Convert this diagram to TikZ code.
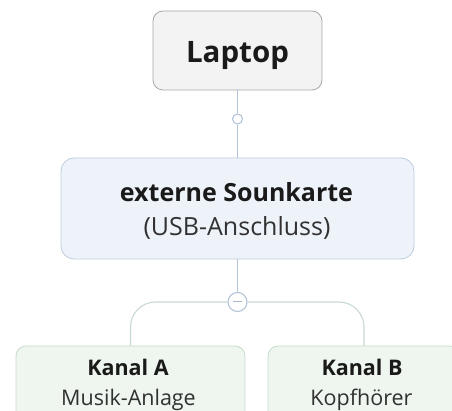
\documentclass[tikz,border=0pt]{standalone}
\usepackage{fontspec}
\setmainfont{Open Sans}
\begin{document}
\begin{tikzpicture}[x=1pt,y=-1pt,
  box/.style={draw, line width=0.8pt, rounded corners=10pt, inner sep=0pt},
  conn/.style={draw=lineblue, line width=1.1pt},
  brack/.style={draw=linegreen, line width=1.1pt, rounded corners=25pt},
  lbl/.style={anchor=base, inner sep=0pt},
]
\definecolor{lineblue}{HTML}{B4C4D8}
\definecolor{linegreen}{HTML}{C8DAD2}
\definecolor{graybd}{HTML}{A8A8A8}
\definecolor{grayfill}{HTML}{F3F3F3}
\definecolor{bluebd}{HTML}{BCCCE0}
\definecolor{bluefill}{HTML}{EEF3FA}
\definecolor{greenbd}{HTML}{C8DCCC}
\definecolor{greenfill}{HTML}{EEF6EF}
\definecolor{txt}{HTML}{1A1A1A}
\useasboundingbox (0,0) rectangle (452,411);
\clip (0,0) rectangle (452,411);
\fill[white] (0,0) rectangle (452,411);
% boxes
\node[box, draw=graybd, fill=grayfill, minimum width=169pt, minimum height=79pt] (lap) at (237.5,50.5) {};
\node[box, draw=bluebd, fill=bluefill, minimum width=353pt, minimum height=101pt, rounded corners=13pt] (ext) at (237.5,208.5) {};
\node[box, draw=greenbd, fill=greenfill, minimum width=229pt, minimum height=90pt] (ka) at (130.5,391) {};
\node[box, draw=greenbd, fill=greenfill, minimum width=192pt, minimum height=90pt] (kb) at (364,391) {};
% texts
\node[lbl, text=txt, font=\bfseries\fontsize{29.5}{32}\selectfont] (laptxt) at (237.5,63) {Laptop};
\node[lbl, text=txt, font=\bfseries\fontsize{25}{28}\selectfont] (ext1) at (236.5,201.5) {externe Sounkarte};
\node[lbl, text=txt!90, font=\fontsize{25}{28}\selectfont] (ext2) at (237,235.5) {(USB-Anschluss)};
\node[lbl, text=txt, font=\bfseries\fontsize{21.5}{24}\selectfont] (ka1) at (128,375) {Kanal A};
\node[lbl, text=txt!90, font=\fontsize{21.5}{24}\selectfont] (ka2) at (128.5,405) {Musik-Anlage};
\node[lbl, text=txt, font=\bfseries\fontsize{21.5}{24}\selectfont] (kb1) at (362,375) {Kanal B};
\node[lbl, text=txt!90, font=\fontsize{21.5}{24}\selectfont] (kb2) at (361.5,405) {Kopfhörer};
% connectors
\node[circle, draw=lineblue, line width=1.1pt, fill=white, minimum size=10pt, inner sep=0pt] (dot) at (237.5,119) {};
\draw[conn] (lap.south) -- (dot.north);
\draw[conn] (dot.south) -- (ext.north);
\node[circle, draw=lineblue, line width=1.1pt, fill=white, minimum size=19pt, inner sep=0pt] (minus) at (237.5,302) {};
\draw[draw=lineblue!80!gray, line width=1pt] ([xshift=-4.5pt]minus.center) -- ([xshift=4.5pt]minus.center);
\draw[conn] (ext.south) -- (minus.north);
\draw[brack] (minus.west) -| (ka.north);
\draw[brack] (minus.east) -| (kb.north);
\end{tikzpicture}
\end{document}
